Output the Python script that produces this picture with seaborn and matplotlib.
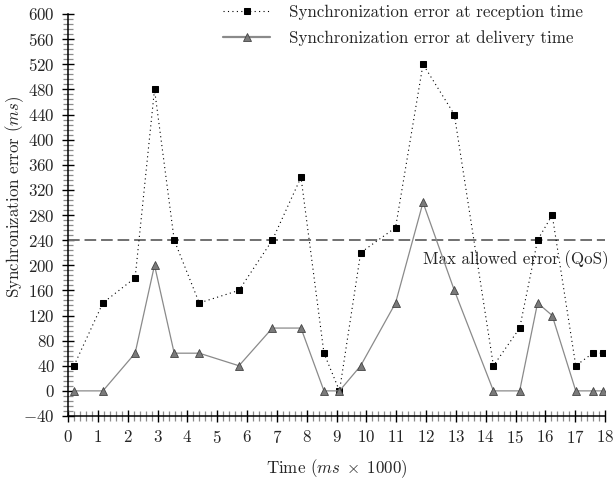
import matplotlib

matplotlib.use("Agg")
import matplotlib.pyplot as plt
import pandas as pd
import seaborn as sns
from matplotlib.ticker import MultipleLocator

# values
time_k = [0.2, 1.17, 2.25, 2.9, 3.56, 4.4, 5.73, 6.85, 7.81, 8.58, 9.1,
          9.81, 10.98, 11.9, 12.95, 14.26, 15.14, 15.74, 16.23, 17.02, 17.59, 17.93]
reception_err = [40, 140, 180, 480, 240, 140, 160, 240, 340, 60, 0,
                 220, 260, 520, 440, 40, 100, 240, 280, 40, 60, 60]
delivery_err = [0, 0, 60, 200, 60, 60, 40, 100, 100, 0, 0,
                40, 140, 300, 160, 0, 0, 140, 120, 0, 0, 0]
qos_limit = 240
reception_label = "Synchronization error at reception time"
delivery_label = "Synchronization error at delivery time"

FS = 12.2

sns.set_style("ticks")
plt.rcParams["font.family"] = "serif"
plt.rcParams["font.serif"] = ["cmr10", "DejaVu Serif"]
plt.rcParams["mathtext.fontset"] = "cm"
plt.rcParams["axes.formatter.use_mathtext"] = True
plt.rcParams["font.size"] = FS

df = pd.DataFrame({"time": time_k, "reception": reception_err, "delivery": delivery_err})

fig = plt.figure(figsize=(6.14, 4.83), dpi=100)
ax = fig.add_axes([68 / 614, 1 - 416 / 483, 537 / 614, 402 / 483])

ax.axhline(qos_limit, color="#707070", lw=1.4, dashes=(6, 2.5), zorder=1)
ax.text(18.12, 209, "Max allowed error (QoS)", ha="right", va="center", fontsize=FS)

sns.lineplot(data=df, x="time", y="reception", ax=ax, estimator=None, sort=False,
             color="black", lw=0.8, linestyle=(0, (1, 3)), marker="s", markersize=4.6,
             markerfacecolor="black", markeredgecolor="black", label=reception_label, zorder=3)
sns.lineplot(data=df, x="time", y="delivery", ax=ax, estimator=None, sort=False,
             color="#8a8a8a", lw=0.9, marker="^", markersize=5.2,
             markerfacecolor="#7a7a7a", markeredgecolor="#444444", markeredgewidth=0.6,
             label=delivery_label, zorder=4)

ax.set_xlim(0, 18)
ax.set_ylim(-40, 600)
ax.xaxis.set_major_locator(MultipleLocator(1))
ax.xaxis.set_minor_locator(MultipleLocator(0.2))
ax.yaxis.set_major_locator(MultipleLocator(40))
ax.yaxis.set_minor_locator(MultipleLocator(8))
ax.tick_params(which="major", direction="inout", length=9, width=1.0, color="black",
               labelsize=FS, pad=5)
ax.tick_params(which="minor", direction="inout", length=6.5, width=0.9, color="#8c8c8c")
sns.despine(ax=ax)
for side in ("left", "bottom"):
    ax.spines[side].set_linewidth(1.1)
    ax.spines[side].set_color("black")

ax.set_xlabel(r"Time ($ms\;\times\;1000$)", fontsize=FS, labelpad=8)
ax.set_ylabel(r"Synchronization error ($ms$)", fontsize=FS)
ax.yaxis.set_label_coords(-0.078, 0.546)

leg = ax.legend(loc="upper left", bbox_to_anchor=(222 / 614, 1 - 4 / 483), bbox_transform=fig.transFigure,
                frameon=False, borderpad=0.05, borderaxespad=0, handlelength=2.8,
                handletextpad=1.1, labelspacing=0.57, fontsize=FS)
leg.get_lines()[1].set_linewidth(1.6)

fig.savefig("out.png", dpi=100)
